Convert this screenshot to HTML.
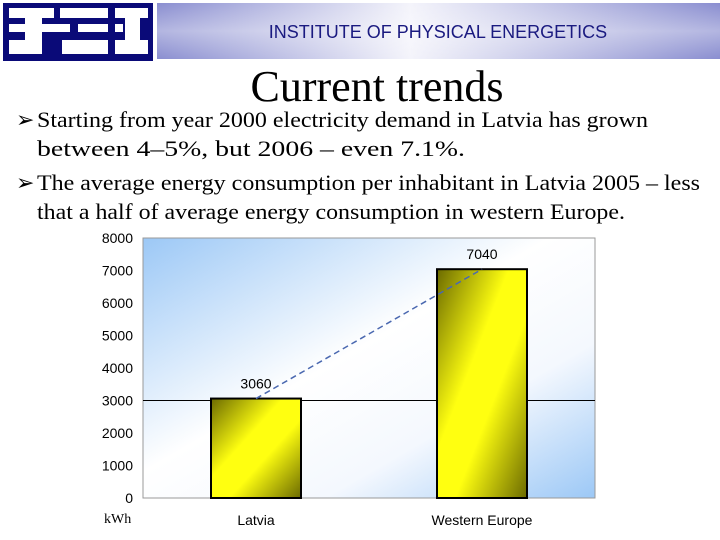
<!DOCTYPE html>
<html><head><meta charset="utf-8"><style>
body{margin:0;width:720px;height:540px;background:#fff;overflow:hidden;position:relative;font-family:"Liberation Serif",serif}
.abs{position:absolute}
</style></head><body>
<svg class="abs" style="left:0;top:0" width="720" height="540">
<defs>
<linearGradient id="ban" x1="0" y1="0" x2="1" y2="0">
<stop offset="0" stop-color="#8a8ed0"/><stop offset="0.45" stop-color="#f4f4fb"/><stop offset="1" stop-color="#8a8ed0"/></linearGradient>
<linearGradient id="ban2" x1="0" y1="0" x2="0" y2="1">
<stop offset="0" stop-color="#fff" stop-opacity="0"/><stop offset="0.5" stop-color="#fff" stop-opacity="0.35"/><stop offset="1" stop-color="#fff" stop-opacity="0"/></linearGradient>
<linearGradient id="bg" x1="0" y1="0" x2="1" y2="1">
<stop offset="0" stop-color="#9cc8f6"/><stop offset="0.45" stop-color="#ffffff"/><stop offset="0.7" stop-color="#f4f8fe"/><stop offset="1" stop-color="#9cc8f6"/></linearGradient>
<linearGradient id="bar" x1="0" y1="0" x2="1" y2="1">
<stop offset="0" stop-color="#6b6a00"/><stop offset="0.4" stop-color="#ffff10"/><stop offset="0.6" stop-color="#ffff10"/><stop offset="1" stop-color="#6b6a00"/></linearGradient>
</defs>
<g>
<rect x="3" y="3" width="150" height="58" fill="#0a0a78"/>
<g fill="#fff">
<rect x="9" y="8" width="45" height="10"/><rect x="25" y="18" width="17" height="36"/><rect x="9" y="24" width="16" height="8"/><rect x="42" y="24" width="28" height="8"/><rect x="9" y="40" width="16" height="14"/>
<rect x="60" y="8" width="48" height="10"/><rect x="78" y="24" width="30" height="8"/><rect x="62" y="40" width="46" height="14"/>
<rect x="115" y="8" width="33" height="10"/><rect x="125" y="18" width="15" height="36"/><rect x="115" y="24" width="8" height="8"/><rect x="115" y="40" width="33" height="14"/>
</g></g>
<rect x="157" y="3" width="563" height="56" fill="url(#ban)"/>
<rect x="157" y="3" width="563" height="56" fill="url(#ban2)"/>
<text x="438" y="38" text-anchor="middle" font-family="Liberation Sans, sans-serif" font-size="18" fill="#1a1a80">INSTITUTE OF PHYSICAL ENERGETICS</text>
<text x="377" y="101" text-anchor="middle" font-size="44" fill="#000">Current trends</text>
<g font-size="22" fill="#000">
<text x="16" y="127">➢</text><text x="37" y="127" textLength="611" lengthAdjust="spacingAndGlyphs">Starting from year 2000 electricity demand in Latvia has grown</text>
<text x="37" y="156" textLength="428" lengthAdjust="spacingAndGlyphs">between 4–5%, but 2006 – even 7.1%.</text>
<text x="16" y="190">➢</text><text x="37" y="190" textLength="663" lengthAdjust="spacingAndGlyphs">The average energy consumption per inhabitant in Latvia 2005 – less</text>
<text x="37" y="219" textLength="588" lengthAdjust="spacingAndGlyphs">that a half of average energy consumption in western Europe.</text>
</g>
<g id="chart"></g>
</svg>
<script>
const categories=["Latvia","Western Europe"];
const values=[3060,7040];
const ticks=[0,1000,2000,3000,4000,5000,6000,7000,8000];
const X0=143,X1=595,Y0=498,Y1=238,YMAX=8000,BW=90;
const ns="http://www.w3.org/2000/svg";
const g=document.getElementById('chart');
function y(v){return Y0-(v/YMAX)*(Y0-Y1);}
function xc(i){const w=(X1-X0)/categories.length;return X0+w*(i+0.5);}
function mk(t,a,p){const e=document.createElementNS(ns,t);for(const k in a)e.setAttribute(k,a[k]);(p||g).appendChild(e);return e;}
const bg=mk('rect',{x:X0,y:Y1,width:X1-X0,height:Y0-Y1,fill:'url(#bg)',stroke:'#999','stroke-width':1});


ticks.forEach(t=>{const e=mk('text',{x:133,y:y(t)+5,'text-anchor':'end','font-family':'Liberation Sans, sans-serif','font-size':14});e.textContent=t;

});
const ref=mk('line',{x1:X0,x2:X1,y1:y(3000),y2:y(3000),stroke:'#000','stroke-width':1});


values.forEach((v,i)=>{const r=mk('rect',{x:xc(i)-BW/2,y:y(v),width:BW,height:Y0-y(v),fill:'url(#bar)',stroke:'#000','stroke-width':2});


const l=mk('text',{x:xc(i),y:y(v)-10,'text-anchor':'middle','font-family':'Liberation Sans, sans-serif','font-size':14});l.textContent=v;


const c=mk('text',{x:xc(i),y:525,'text-anchor':'middle','font-family':'Liberation Sans, sans-serif','font-size':14});c.textContent=categories[i];

});
const tl=mk('line',{x1:xc(0),y1:y(values[0]),x2:xc(1),y2:y(values[1]),stroke:'#4a68b0','stroke-width':1.5,'stroke-dasharray':'6,4'});


const u=mk('text',{x:104,y:523,'font-family':'Liberation Serif, serif','font-size':14});u.textContent='kWh';


</script>
</body></html>
